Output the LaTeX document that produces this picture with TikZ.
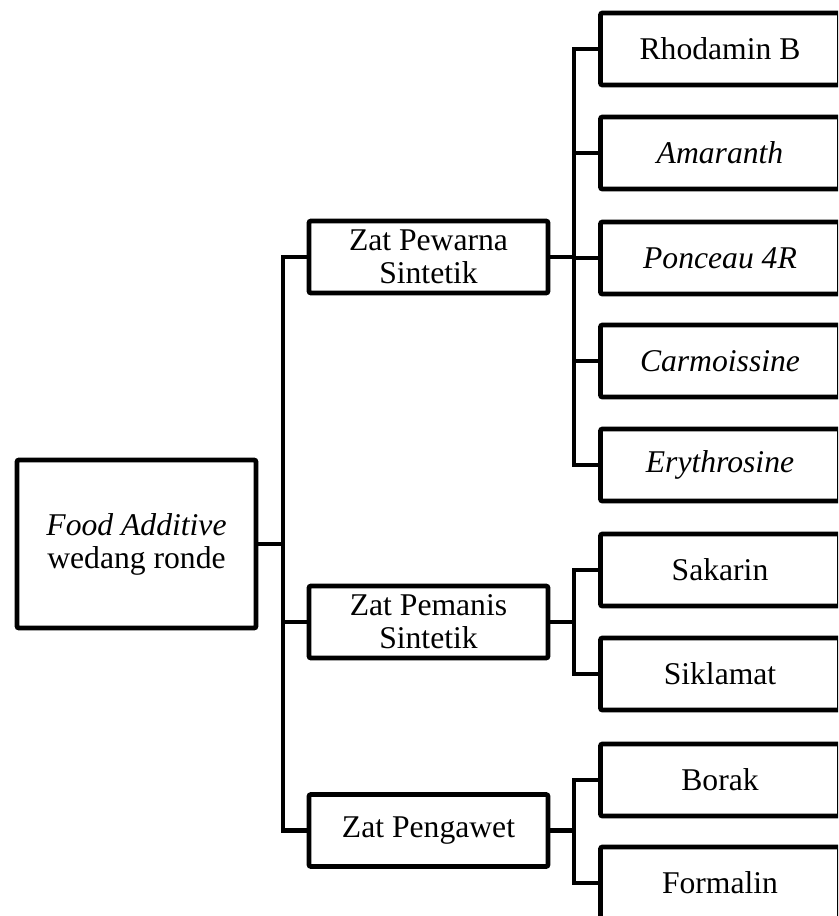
\documentclass[tikz,border=0pt]{standalone}
\usepackage{fontspec}
\setmainfont{Liberation Serif}
\usetikzlibrary{positioning}

\begin{document}
\begin{tikzpicture}[x=0.025cm,y=-0.025cm,
  box/.style={draw,line width=0.12cm,rounded corners=1.5pt,align=center,
              font=\fontsize{22.5}{23.5}\selectfont,inner sep=0pt,
              minimum width=5.975cm,minimum height=1.8cm},
  root/.style={box,minimum height=4.2cm},
  link/.style={line width=0.12cm}]
\useasboundingbox (0,0) rectangle (838,916);
\clip (0,0) rectangle (838,916);
\node[root] (additive) at (136.5,544) {\textit{Food Additive}\\ wedang ronde};
\node[box] (pewarna) at (428.5,257) {Zat Pewarna\\ Sintetik};
\node[box] (pemanis) at (428.5,622) {Zat Pemanis\\ Sintetik};
\node[box] (pengawet) at (428.5,830.5) {Zat Pengawet};
\node[box] (rhodamin) at (720,49) {Rhodamin B};
\node[box] (amaranth) at (720,153) {\textit{Amaranth}};
\node[box] (ponceau) at (720,258) {\textit{Ponceau 4R}};
\node[box] (carmoissine) at (720,361) {\textit{Carmoissine}};
\node[box] (erythrosine) at (720,465) {\textit{Erythrosine}};
\node[box] (sakarin) at (720,570) {Sakarin};
\node[box] (siklamat) at (720,674) {Siklamat};
\node[box] (borak) at (720,780) {Borak};
\node[box] (formalin) at (720,883) {Formalin};
\coordinate (rootbus) at (283,0);
\coordinate (leafbus) at (574,0);
% first level
\draw[link] (additive.east) -- (additive.east -| rootbus);
\draw[link] (pewarna.west) -| (rootbus |- pengawet.west) -- (pengawet.west);
\draw[link] (pemanis.west) -- (pemanis.west -| rootbus);
% pewarna
\draw[link] (pewarna.east) -- (pewarna.east -| leafbus);
\draw[link] (rhodamin.west) -| (leafbus |- erythrosine.west) -- (erythrosine.west);
\draw[link] (amaranth.west) -- (amaranth.west -| leafbus);
\draw[link] (ponceau.west) -- (ponceau.west -| leafbus);
\draw[link] (carmoissine.west) -- (carmoissine.west -| leafbus);
% pemanis
\draw[link] (pemanis.east) -- (pemanis.east -| leafbus);
\draw[link] (sakarin.west) -| (leafbus |- siklamat.west) -- (siklamat.west);
% pengawet
\draw[link] (pengawet.east) -- (pengawet.east -| leafbus);
\draw[link] (borak.west) -| (leafbus |- formalin.west) -- (formalin.west);
\end{tikzpicture}
\end{document}
